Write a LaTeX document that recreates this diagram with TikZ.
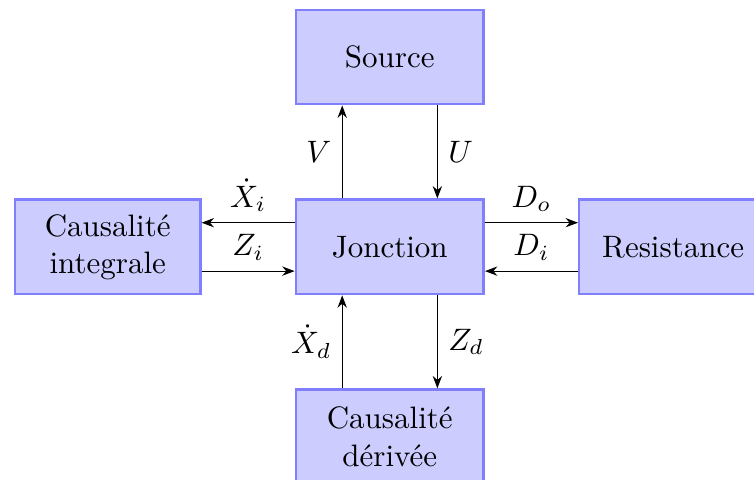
\documentclass[tikz,border=0pt]{standalone}
\usepackage{amsmath,amssymb}
\usepackage{tikz}
\usetikzlibrary{calc,arrows.meta,positioning}
\tikzset{
  bloc/.style={draw=blue!50, fill=blue!20, thick, minimum width=2.13cm, minimum height=1.07cm, align=center},
  lien/.style={-{Stealth[length=4pt,width=3pt]}, thin}
}

\begin{document}
\begin{tikzpicture}[node distance=1.055cm]
\useasboundingbox (-4.42,-2.64) rectangle (4.13,2.80);
\node[bloc] (jct) at (0,0) {Jonction};
\node[bloc, above=of jct] (src) {Source};
\node[bloc, left=of jct, minimum width=2.1cm] (integ) {Causalité\\integrale};
\node[bloc, right=of jct] (resist) {Resistance};
\node[bloc, below=of jct] (deriv) {Causalité\\dérivée};
% vertical links
\draw[lien] ($(jct.north west)!.25!(jct.north east)$) -- node[left] {$V$} ($(src.south west)!.25!(src.south east)$);
\draw[lien] ($(src.south west)!.75!(src.south east)$) -- node[right] {$U$} ($(jct.north west)!.75!(jct.north east)$);
\draw[lien] ($(jct.south west)!.75!(jct.south east)$) -- node[right] {$Z_d$} ($(deriv.north west)!.75!(deriv.north east)$);
\draw[lien] ($(deriv.north west)!.25!(deriv.north east)$) -- node[left] {$\dot{X}_d$} ($(jct.south west)!.25!(jct.south east)$);
% horizontal links
\draw[lien] ($(jct.north west)!.25!(jct.south west)$) -- node[above] {$\dot{X}_i$} ($(integ.north east)!.25!(integ.south east)$);
\draw[lien] ($(integ.north east)!.75!(integ.south east)$) -- node[above] {$Z_i$} ($(jct.north west)!.75!(jct.south west)$);
\draw[lien] ($(jct.north east)!.25!(jct.south east)$) -- node[above] {$D_o$} ($(resist.north west)!.25!(resist.south west)$);
\draw[lien] ($(resist.north west)!.75!(resist.south west)$) -- node[above] {$D_i$} ($(jct.north east)!.75!(jct.south east)$);
\end{tikzpicture}
\end{document}
